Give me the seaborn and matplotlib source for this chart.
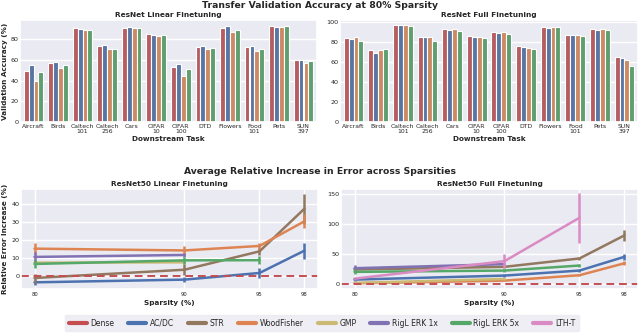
import numpy as np
import pandas as pd
import matplotlib
matplotlib.use("Agg")
import matplotlib.pyplot as plt
import seaborn as sns
from matplotlib.lines import Line2D

# ---------------- data ----------------
tasks = ["Aircraft", "Birds", "Caltech\n101", "Caltech\n256", "Cars", "CIFAR\n10",
         "CIFAR\n100", "DTD", "Flowers", "Food\n101", "Pets", "SUN\n397"]
bar_methods = ["Dense", "AC/DC", "WoodFisher", "RigL ERK 5x"]

lin_dense = [49, 57, 90.6, 74, 91, 85, 53, 73, 91, 72.6, 92.5, 60]
lin_acdc = [55, 58, 90.3, 74.5, 92, 84, 56, 74, 92.5, 73.5, 92, 60]
lin_wf = [40, 52, 89, 71, 90.6, 83, 44.5, 70.5, 87.5, 68.5, 92, 57]
lin_rigl5 = [48.5, 55.5, 89, 71, 90.6, 84, 51, 72, 89, 70.7, 93, 59.5]

full_dense = [84, 72, 97.6, 85.5, 93.6, 85.8, 90.2, 76, 95, 87.2, 93, 64.9]
full_acdc = [83.4, 69.6, 97.3, 85.1, 92.6, 85.5, 89.2, 75.3, 94.6, 86.8, 92.2, 63.9]
full_wf = [84.8, 72, 97.3, 85.1, 93.6, 85.1, 90.2, 74.7, 95.3, 87.2, 93, 62.5]
full_rigl5 = [81.4, 73, 96.3, 81, 91, 83.8, 88.5, 73, 95, 86.1, 91.9, 55.7]

legend_methods = ["Dense", "AC/DC", "STR", "WoodFisher", "GMP", "RigL ERK 1x", "RigL ERK 5x", "LTH-T"]

# Linear finetuning: relative error increase (mean, error)
lin_sp = {"AC/DC": [80, 90, 95, 98], "STR": [80, 90, 95, 98], "WoodFisher": [80, 90, 95, 98],
          "GMP": [80, 90], "RigL ERK 1x": [80, 90], "RigL ERK 5x": [80, 90, 95]}
lin_mean = {"AC/DC": [-3.3, -1.8, 1.9, 14.3], "STR": [-0.9, 3.7, 13.9, 37.6],
            "WoodFisher": [15.4, 14.4, 16.9, 30.6], "GMP": [7.6, 7.8],
            "RigL ERK 1x": [10.8, 11.9], "RigL ERK 5x": [6.9, 8.9, 9.0]}
lin_err = {"AC/DC": [1.3, 1.5, 2.8, 4.5], "STR": [2.5, 3.0, 2.0, 8.3],
           "WoodFisher": [3.2, 2.5, 1.5, 4.0], "GMP": [1.0, 1.0],
           "RigL ERK 1x": [3.0, 1.0], "RigL ERK 5x": [2.3, 1.9, 2.2]}

full_sp = {"AC/DC": [80, 90, 95, 98], "STR": [80, 90, 95, 98], "WoodFisher": [80, 90, 95, 98],
           "GMP": [80, 90], "RigL ERK 1x": [80, 90], "RigL ERK 5x": [80, 90, 95],
           "LTH-T": [80, 90, 95]}
full_mean = {"AC/DC": [6.7, 13.4, 21.8, 44.8], "STR": [23.5, 28.0, 42.0, 80.6],
             "WoodFisher": [0.5, 5.0, 14.0, 34.0], "GMP": [1.2, 7.8],
             "RigL ERK 1x": [25.7, 32.5], "RigL ERK 5x": [19.6, 21.8, 30.2],
             "LTH-T": [8.2, 37.5, 110.0]}
full_err = {"AC/DC": [2.0, 2.0, 2.0, 5.0], "STR": [3.0, 2.0, 3.0, 9.0],
            "WoodFisher": [1.0, 1.0, 2.0, 3.0], "GMP": [1.0, 1.0],
            "RigL ERK 1x": [5.0, 2.0], "RigL ERK 5x": [4.0, 2.0, 3.0],
            "LTH-T": [2.0, 12.0, 42.0]}

sparsity_ticks = [80, 90, 95, 98]

# ---------------- style ----------------
sns.set_theme(style="darkgrid")
plt.rcParams["font.family"] = ["DejaVu Sans"]
deep = sns.color_palette("deep")
colors = {"Dense": deep[3], "AC/DC": deep[0], "STR": deep[5], "WoodFisher": deep[1],
          "GMP": deep[8], "RigL ERK 1x": deep[4], "RigL ERK 5x": deep[2], "LTH-T": deep[6]}

TITLE_FS = 6.7
SUB_FS = 5.3
LABEL_FS = 5.2
YTICK_FS = 4.6

fig = plt.figure(figsize=(6.4, 3.33), dpi=100)
ax_tl = fig.add_axes([20/640, 1-122/333, 297/640, 102/333])
ax_tr = fig.add_axes([340/640, 1-122/333, 298/640, 102/333])
ax_bl = fig.add_axes([21/640, 1-289/333, 297/640, 100/333])
ax_br = fig.add_axes([341/640, 1-289/333, 297/640, 100/333])


def bar_df(vals):
    rows = []
    for m, v in zip(bar_methods, vals):
        for t, x in zip(tasks, v):
            rows.append({"task": t, "method": m, "acc": x})
    return pd.DataFrame(rows)


for ax, vals, title, ylim in [
    (ax_tl, [lin_dense, lin_acdc, lin_wf, lin_rigl5], "ResNet Linear Finetuning", (0, 98.7)),
    (ax_tr, [full_dense, full_acdc, full_wf, full_rigl5], "ResNet Full Finetuning", (0, 102.3)),
]:
    df = bar_df(vals)
    sns.barplot(data=df, x="task", y="acc", hue="method", hue_order=bar_methods,
                palette=colors, edgecolor="white", linewidth=0.8, ax=ax, legend=False)
    ax.set_ylim(*ylim)
    ax.set_xlim(-0.55, len(tasks) - 0.45)
    ax.set_title(title, fontsize=SUB_FS, fontweight="bold", pad=2)
    ax.set_xlabel("Downstream Task", fontsize=LABEL_FS, fontweight="bold", labelpad=1)
    ax.set_ylabel("")
    ax.tick_params(axis="x", labelsize=4.4, pad=1.2, length=0)
    ax.tick_params(axis="y", labelsize=YTICK_FS, pad=1.2, length=0)
    ax.set_yticks([0, 20, 40, 60, 80] + ([100] if ylim[1] > 100 else []))

ax_tl.set_ylabel("Validation Accuracy (%)", fontsize=LABEL_FS, fontweight="bold")
ax_tl.yaxis.set_label_coords(-11.5/297, 0.5)


def line_panel(ax, sp, mean, err, title, ylim, yticks):
    rows = []
    for m in sp:
        for s, v in zip(sp[m], mean[m]):
            rows.append({"sparsity": s, "method": m, "inc": v})
    df = pd.DataFrame(rows)
    order = [m for m in legend_methods if m in sp]
    sns.lineplot(data=df, x="sparsity", y="inc", hue="method", hue_order=order,
                 palette=colors, linewidth=1.8, ax=ax, legend=False)
    for m in order:
        ax.errorbar(sp[m], mean[m], yerr=err[m], fmt="none", ecolor=colors[m],
                    elinewidth=1.8, capsize=0)
    ax.axhline(0, color=colors["Dense"], linestyle="--", linewidth=1.4, dashes=(4, 2.5))
    ax.set_xlim(79.1, 98.9)
    ax.set_ylim(*ylim)
    ax.set_xticks(sparsity_ticks)
    ax.set_yticks(yticks)
    ax.set_title(title, fontsize=SUB_FS, fontweight="bold", pad=2)
    ax.set_xlabel("Sparsity (%)", fontsize=LABEL_FS, fontweight="bold", labelpad=2)
    ax.set_ylabel("")
    ax.tick_params(axis="x", labelsize=3.8, pad=2, length=0)
    ax.tick_params(axis="y", labelsize=YTICK_FS, pad=1.2, length=0)


line_panel(ax_bl, lin_sp, lin_mean, lin_err, "ResNet50 Linear Finetuning", (-7, 48.5),
           [0, 10, 20, 30, 40])
line_panel(ax_br, full_sp, full_mean, full_err, "ResNet50 Full Finetuning", (-9, 158),
           [0, 50, 100, 150])
ax_bl.set_ylabel("Relative Error Increase (%)", fontsize=LABEL_FS, fontweight="bold")
ax_bl.yaxis.set_label_coords(-12.5/297, 0.5)

fig.text(0.5, 1 - 5/333, "Transfer Validation Accuracy at 80% Sparsity", ha="center",
         va="center", fontsize=TITLE_FS, fontweight="bold", color="#262626")
fig.text(0.5, 1 - 172/333, "Average Relative Increase in Error across Sparsities", ha="center",
         va="center", fontsize=TITLE_FS, fontweight="bold", color="#262626")

handles = [Line2D([0], [0], color=colors[m], lw=3) for m in legend_methods]
leg = fig.legend(handles, legend_methods, loc="center", bbox_to_anchor=(0.503, 1 - 323/333),
                 ncol=8, fontsize=5.5, frameon=True, handlelength=2.35, columnspacing=1.8,
                 handletextpad=0.5, borderpad=0.5)
leg.get_frame().set_facecolor("#EAEAF2")
leg.get_frame().set_edgecolor("#EAEAF2")

fig.savefig("out.png", dpi=100)
